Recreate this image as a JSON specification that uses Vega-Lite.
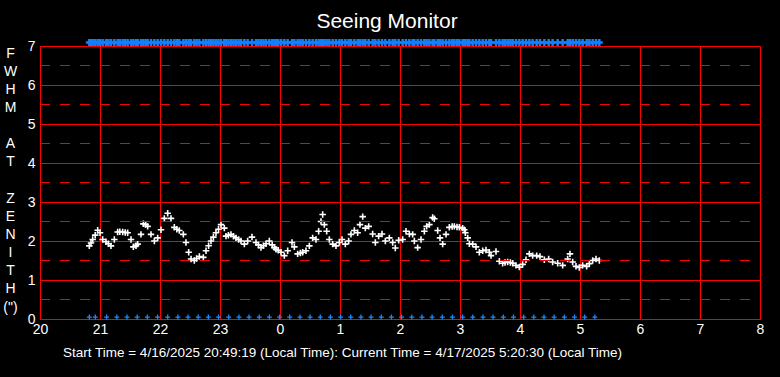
{
  "$schema": "https://vega.github.io/schema/vega-lite/v6.json",
  "width": 720,
  "height": 273,
  "autosize": {"type": "none"},
  "padding": {"left": 40, "top": 46, "right": 20, "bottom": 58},
  "background": "black",
  "config": {
    "view": {"stroke": null},
    "font": "Liberation Sans",
    "axis": {
      "grid": true, "gridColor": "#ff0000", "gridWidth": 1, "gridOpacity": 1,
      "domain": true, "domainColor": "#ff0000", "domainWidth": 1,
      "ticks": false, "labelOverlap": false, "labelFlush": false,
      "labelColor": "white", "labelFontSize": 14, "labelFont": "Liberation Sans",
      "titleColor": "white", "titleFontWeight": "normal", "titleFont": "Liberation Sans"
    }
  },
  "title": {
    "text": "Seeing Monitor",
    "color": "white",
    "fontSize": 21,
    "font": "Liberation Sans",
    "fontWeight": "normal",
    "anchor": "middle",
    "frame": "group",
    "dx": -13,
    "baseline": "alphabetic",
    "offset": -15
  },
  "datasets": {
    "seeing": [
      {"t": 20.822, "f": 1.875}, {"t": 20.85, "f": 1.95}, {"t": 20.878, "f": 2.04}, {"t": 20.92, "f": 2.15}, {"t": 20.961, "f": 2.275}, {"t": 21.0, "f": 2.21},
      {"t": 21.044, "f": 2.04}, {"t": 21.1, "f": 1.98}, {"t": 21.14, "f": 1.93}, {"t": 21.183, "f": 1.875}, {"t": 21.239, "f": 2.04},
      {"t": 21.294, "f": 2.23}, {"t": 21.33, "f": 2.24}, {"t": 21.378, "f": 2.23}, {"t": 21.42, "f": 2.22}, {"t": 21.461, "f": 2.21}, {"t": 21.517, "f": 2.04},
      {"t": 21.556, "f": 1.85}, {"t": 21.6, "f": 1.88}, {"t": 21.628, "f": 1.92}, {"t": 21.683, "f": 2.17}, {"t": 21.722, "f": 2.44},
      {"t": 21.76, "f": 2.42}, {"t": 21.794, "f": 2.375}, {"t": 21.85, "f": 2.17}, {"t": 21.906, "f": 2.0}, {"t": 21.961, "f": 2.08},
      {"t": 22.017, "f": 2.29}, {"t": 22.072, "f": 2.58}, {"t": 22.128, "f": 2.71}, {"t": 22.183, "f": 2.58},
      {"t": 22.239, "f": 2.35}, {"t": 22.28, "f": 2.3}, {"t": 22.322, "f": 2.27}, {"t": 22.389, "f": 2.17}, {"t": 22.433, "f": 1.96},
      {"t": 22.478, "f": 1.71}, {"t": 22.517, "f": 1.54}, {"t": 22.572, "f": 1.5}, {"t": 22.61, "f": 1.55}, {"t": 22.656, "f": 1.6},
      {"t": 22.722, "f": 1.58}, {"t": 22.767, "f": 1.75}, {"t": 22.81, "f": 1.88}, {"t": 22.85, "f": 2.0}, {"t": 22.89, "f": 2.1}, {"t": 22.933, "f": 2.21},
      {"t": 22.975, "f": 2.3}, {"t": 23.017, "f": 2.42}, {"t": 23.072, "f": 2.33}, {"t": 23.1, "f": 2.125}, {"t": 23.14, "f": 2.15}, {"t": 23.183, "f": 2.17},
      {"t": 23.225, "f": 2.12}, {"t": 23.267, "f": 2.08}, {"t": 23.31, "f": 2.04}, {"t": 23.35, "f": 2.0}, {"t": 23.406, "f": 1.92},
      {"t": 23.461, "f": 2.0}, {"t": 23.533, "f": 2.1}, {"t": 23.6, "f": 1.96}, {"t": 23.64, "f": 1.9}, {"t": 23.683, "f": 1.83},
      {"t": 23.725, "f": 1.88}, {"t": 23.767, "f": 1.93}, {"t": 23.822, "f": 2.0}, {"t": 23.87, "f": 1.9}, {"t": 23.906, "f": 1.83},
      {"t": 23.933, "f": 1.79}, {"t": 23.97, "f": 1.76}, {"t": 24.017, "f": 1.71}, {"t": 24.072, "f": 1.625}, {"t": 24.128, "f": 1.75},
      {"t": 24.2, "f": 1.96}, {"t": 24.239, "f": 1.85}, {"t": 24.294, "f": 1.67}, {"t": 24.34, "f": 1.69}, {"t": 24.378, "f": 1.71},
      {"t": 24.433, "f": 1.75}, {"t": 24.489, "f": 1.875}, {"t": 24.544, "f": 2.08}, {"t": 24.6, "f": 2.04}, {"t": 24.644, "f": 2.25},
      {"t": 24.683, "f": 2.5}, {"t": 24.711, "f": 2.68}, {"t": 24.739, "f": 2.42}, {"t": 24.778, "f": 2.25}, {"t": 24.822, "f": 2.04},
      {"t": 24.878, "f": 1.92}, {"t": 24.933, "f": 1.875}, {"t": 24.989, "f": 1.96}, {"t": 25.033, "f": 2.04}, {"t": 25.089, "f": 1.92},
      {"t": 25.144, "f": 2.0}, {"t": 25.183, "f": 2.17}, {"t": 25.239, "f": 2.27}, {"t": 25.294, "f": 2.21}, {"t": 25.333, "f": 2.42},
      {"t": 25.378, "f": 2.625}, {"t": 25.422, "f": 2.33}, {"t": 25.478, "f": 2.375}, {"t": 25.544, "f": 2.18}, {"t": 25.589, "f": 1.96},
      {"t": 25.644, "f": 2.125}, {"t": 25.7, "f": 2.18}, {"t": 25.756, "f": 2.0}, {"t": 25.822, "f": 2.08}, {"t": 25.878, "f": 1.96},
      {"t": 25.922, "f": 1.82}, {"t": 25.978, "f": 2.02}, {"t": 26.044, "f": 2.04}, {"t": 26.1, "f": 2.25}, {"t": 26.156, "f": 2.18},
      {"t": 26.211, "f": 2.17}, {"t": 26.239, "f": 2.0}, {"t": 26.294, "f": 1.83}, {"t": 26.35, "f": 2.04}, {"t": 26.406, "f": 2.25},
      {"t": 26.444, "f": 2.375}, {"t": 26.489, "f": 2.42}, {"t": 26.544, "f": 2.6}, {"t": 26.572, "f": 2.57}, {"t": 26.628, "f": 2.27},
      {"t": 26.667, "f": 2.08}, {"t": 26.711, "f": 1.92}, {"t": 26.767, "f": 2.17}, {"t": 26.822, "f": 2.35}, {"t": 26.87, "f": 2.37},
      {"t": 26.906, "f": 2.375}, {"t": 26.95, "f": 2.36}, {"t": 26.989, "f": 2.35}, {"t": 27.044, "f": 2.33}, {"t": 27.072, "f": 2.29},
      {"t": 27.089, "f": 2.21}, {"t": 27.128, "f": 2.08}, {"t": 27.156, "f": 1.93}, {"t": 27.211, "f": 1.92}, {"t": 27.267, "f": 1.85},
      {"t": 27.322, "f": 1.71}, {"t": 27.378, "f": 1.75}, {"t": 27.433, "f": 1.77}, {"t": 27.489, "f": 1.71}, {"t": 27.517, "f": 1.625},
      {"t": 27.6, "f": 1.73}, {"t": 27.656, "f": 1.48}, {"t": 27.711, "f": 1.43}, {"t": 27.75, "f": 1.45}, {"t": 27.794, "f": 1.46},
      {"t": 27.84, "f": 1.45}, {"t": 27.878, "f": 1.43}, {"t": 27.933, "f": 1.375}, {"t": 27.989, "f": 1.33}, {"t": 28.044, "f": 1.4},
      {"t": 28.1, "f": 1.52}, {"t": 28.156, "f": 1.67}, {"t": 28.211, "f": 1.625}, {"t": 28.278, "f": 1.625}, {"t": 28.333, "f": 1.6},
      {"t": 28.406, "f": 1.52}, {"t": 28.478, "f": 1.54}, {"t": 28.544, "f": 1.46}, {"t": 28.628, "f": 1.43}, {"t": 28.711, "f": 1.375},
      {"t": 28.794, "f": 1.54}, {"t": 28.833, "f": 1.67}, {"t": 28.878, "f": 1.46}, {"t": 28.933, "f": 1.35}, {"t": 28.989, "f": 1.32},
      {"t": 29.044, "f": 1.375}, {"t": 29.111, "f": 1.35}, {"t": 29.156, "f": 1.42}, {"t": 29.211, "f": 1.5}, {"t": 29.267, "f": 1.54},
      {"t": 29.322, "f": 1.5}
    ],
    "bottom": [
      {"t": 20.822}, {"t": 20.922}, {"t": 21.111}, {"t": 21.281}, {"t": 21.45}, {"t": 21.62}, {"t": 21.789}, {"t": 21.959},
      {"t": 22.128}, {"t": 22.298}, {"t": 22.467}, {"t": 22.637}, {"t": 22.806}, {"t": 22.976}, {"t": 23.145}, {"t": 23.315},
      {"t": 23.484}, {"t": 23.654}, {"t": 23.823}, {"t": 23.993}, {"t": 24.162}, {"t": 24.332}, {"t": 24.501}, {"t": 24.671},
      {"t": 24.84}, {"t": 25.01}, {"t": 25.179}, {"t": 25.349}, {"t": 25.518}, {"t": 25.688}, {"t": 25.857}, {"t": 26.027},
      {"t": 26.196}, {"t": 26.366}, {"t": 26.535}, {"t": 26.705}, {"t": 26.874}, {"t": 27.044}, {"t": 27.213}, {"t": 27.383},
      {"t": 27.552}, {"t": 27.722}, {"t": 27.891}, {"t": 28.061}, {"t": 28.23}, {"t": 28.4}, {"t": 28.569}, {"t": 28.739},
      {"t": 28.908}, {"t": 29.078}, {"t": 29.247}
    ],
    "halves": [
      {"v": 0.5}, {"v": 1.5}, {"v": 2.5}, {"v": 3.5}, {"v": 4.5}, {"v": 5.5}, {"v": 6.5}
    ]
  },
  "layer": [
    {
      "data": {"name": "seeing"},
      "mark": {"type": "point", "shape": "M-1,0H1M0,-1V1", "filled": false, "color": "white", "size": 42, "strokeWidth": 1.6, "opacity": 1},
      "encoding": {
        "x": {
          "field": "t", "type": "quantitative",
          "scale": {"domain": [20, 32], "nice": false, "zero": false},
          "axis": {
            "values": [20, 21, 22, 23, 24, 25, 26, 27, 28, 29, 30, 31, 32],
            "labelExpr": "datum.value % 24",
            "labelPadding": 3,
            "title": "Start Time = 4/16/2025 20:49:19 (Local Time): Current Time = 4/17/2025 5:20:30 (Local Time)",
            "titleFontSize": 13.5,
            "titleX": 302, "titleY": 37, "titleAlign": "center", "titleBaseline": "alphabetic"
          }
        },
        "y": {
          "field": "f", "type": "quantitative",
          "scale": {"domain": [0, 7], "nice": false, "zero": true},
          "axis": {
            "values": [0, 1, 2, 3, 4, 5, 6, 7],
            "labelPadding": 5,
            "title": ["F", "W", "H", "M", "\u200b", "A", "T", "\u200b", "Z", "E", "N", "I", "T", "H", "(\")"],
            "titleAngle": 0, "titleAlign": "center", "titleBaseline": "top",
            "titleX": -30, "titleY": 0, "titleLineHeight": 18.15,
            "titleFontSize": 14
          }
        }
      }
    },
    {
      "data": {"name": "halves"},
      "mark": {"type": "rule", "color": "#ff0000", "strokeWidth": 1, "strokeDash": [10, 10], "strokeDashOffset": 10},
      "encoding": {
        "y": {
          "field": "v", "type": "quantitative",
          "axis": {
            "values": [0, 1, 2, 3, 4, 5, 6, 7],
            "labelPadding": 5,
            "title": ["F", "W", "H", "M", "\u200b", "A", "T", "\u200b", "Z", "E", "N", "I", "T", "H", "(\")"],
            "titleAngle": 0, "titleAlign": "center", "titleBaseline": "top",
            "titleX": -30, "titleY": 0, "titleLineHeight": 18.15,
            "titleFontSize": 14
          }
        }
      }
    },
    {
      "data": {"name": "seeing"},
      "mark": {"type": "point", "shape": "M-1,0H1M0,-1V1", "filled": false, "color": "#1080ff", "size": 49, "strokeWidth": 2.5, "opacity": 1},
      "encoding": {
        "x": {"field": "t", "type": "quantitative"},
        "y": {
          "datum": 7.09, "type": "quantitative",
          "axis": {
            "values": [0, 1, 2, 3, 4, 5, 6, 7],
            "labelPadding": 5,
            "title": ["F", "W", "H", "M", "\u200b", "A", "T", "\u200b", "Z", "E", "N", "I", "T", "H", "(\")"],
            "titleAngle": 0, "titleAlign": "center", "titleBaseline": "top",
            "titleX": -30, "titleY": 0, "titleLineHeight": 18.15,
            "titleFontSize": 14
          }
        }
      }
    },
    {
      "data": {"name": "bottom"},
      "mark": {"type": "point", "shape": "M-1,0H1M0,-1V1", "filled": false, "color": "#1a88ff", "size": 25, "strokeWidth": 1.3, "opacity": 1},
      "encoding": {
        "x": {"field": "t", "type": "quantitative"},
        "y": {
          "datum": 0.05, "type": "quantitative",
          "axis": {
            "values": [0, 1, 2, 3, 4, 5, 6, 7],
            "labelPadding": 5,
            "title": ["F", "W", "H", "M", "\u200b", "A", "T", "\u200b", "Z", "E", "N", "I", "T", "H", "(\")"],
            "titleAngle": 0, "titleAlign": "center", "titleBaseline": "top",
            "titleX": -30, "titleY": 0, "titleLineHeight": 18.15,
            "titleFontSize": 14
          }
        }
      }
    }
  ]
}
